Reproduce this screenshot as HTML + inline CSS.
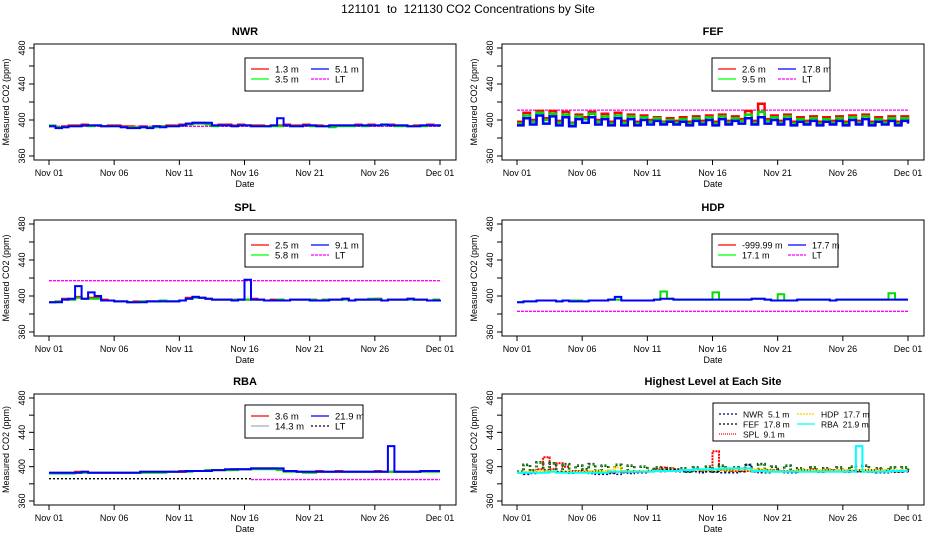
<!DOCTYPE html>
<html><head><meta charset="utf-8">
<style>
html,body{margin:0;padding:0;background:#fff;}
svg{display:block;font-family:"Liberation Sans",sans-serif;}
text{white-space:pre;}
</style></head>
<body>
<svg id="c" width="936" height="540" viewBox="0 0 936 540">
<text x="468" y="13" text-anchor="middle" font-size="12">121101  to  121130 CO2 Concentrations by Site</text>
</svg>
<script>
// ---- data (values every 12 hours, Nov 01 .. Dec 01, 61 points) ----
const xTickLabels = ["Nov 01","Nov 06","Nov 11","Nov 16","Nov 21","Nov 26","Dec 01"];
const xTickDays = [0,5,10,15,20,25,30];
const yTicks = [360,380,400,420,440,460,480];
const yTickLabels = ["360","","400","","440","","480"];

const nwr13 = [393,392,393,394,394,395,394,394,393,394,394,393,393,392,393,392,393,393,394,394,395,396,397,397,396,394,395,395,394,395,394,394,394,393,394,394,395,394,394,395,394,394,393,394,394,394,394,395,394,395,394,395,395,394,394,393,394,394,395,394,394];
const nwr35 = [394,392,392,393,393,394,393,394,393,393,393,392,392,392,392,392,392,393,393,393,394,395,396,396,395,393,394,394,393,394,394,393,393,393,393,393,394,393,393,394,393,393,393,392,393,393,393,394,393,394,394,394,394,393,393,393,393,393,394,394,393];
const nwr51 = [393,391,392,393,393,394,394,394,393,393,393,392,391,391,392,391,393,392,393,393,394,396,397,397,397,394,394,394,393,394,394,393,393,393,394,402,394,393,393,394,394,393,393,394,394,394,394,394,394,394,394,395,394,394,394,393,393,394,394,394,393];
const nwrLT = 393;

const fef26 = [398,408,400,410,402,410,399,409,397,406,403,409,400,407,398,408,399,406,398,405,400,403,398,402,399,403,398,404,399,405,398,406,399,404,401,410,399,418,401,405,399,406,398,403,399,404,398,403,399,404,398,405,399,406,398,403,399,404,398,404,400];
const fef95 = [396,405,398,408,400,407,397,406,396,404,401,407,398,404,396,405,397,404,396,403,398,402,397,400,397,401,396,402,397,403,396,404,397,402,399,406,397,409,399,403,397,404,396,401,397,402,396,401,397,402,396,403,397,404,396,401,397,402,396,402,398];
const fef178 = [394,402,395,405,396,404,394,403,393,401,397,403,395,401,394,402,394,401,394,400,395,399,395,398,395,398,394,399,395,400,394,401,395,399,396,402,395,403,396,400,395,401,394,398,395,399,394,398,395,399,394,400,395,401,394,398,395,399,394,399,396];
const fefLT = 411;

const spl25 = [393,394,397,396,399,397,398,398,396,395,394,394,393,394,394,394,394,395,394,394,395,398,399,398,397,396,396,396,396,396,396,397,396,395,396,396,395,396,396,396,396,395,396,396,396,397,395,396,396,396,397,395,396,396,396,397,396,396,395,396,396];
const spl58 = [393,394,396,396,398,397,397,397,395,395,394,394,393,393,394,394,394,395,394,394,395,397,398,398,397,396,396,396,396,396,396,396,396,395,395,396,395,396,396,396,396,395,396,396,396,396,395,396,396,397,397,395,396,396,396,396,396,396,395,396,396];
const spl91 = [393,393,396,397,411,397,404,400,395,395,394,394,393,393,393,394,394,394,394,394,395,397,399,398,397,396,396,396,395,396,418,396,396,395,395,395,395,396,396,396,395,395,395,396,396,397,395,396,396,396,396,395,396,396,396,397,396,396,395,395,396];
const splLT = 417;

const hdp171 = [393,394,394,395,395,395,394,395,395,395,394,395,395,395,396,396,395,395,395,395,395,396,405,397,396,396,396,396,396,396,404,396,396,396,396,396,397,397,396,395,402,395,395,396,396,396,396,396,395,396,396,396,396,396,396,396,396,403,396,396,396];
const hdp177 = [393,394,394,395,395,395,394,395,394,394,394,395,395,395,396,399,395,395,395,395,395,396,397,397,396,396,396,396,396,396,396,396,396,396,396,396,397,397,396,395,395,395,395,396,396,396,396,396,395,396,396,396,396,396,396,396,396,396,396,396,396];
const hdpLT = 383;

const rba36 = [393,393,393,393,394,394,393,393,393,393,393,393,393,393,394,394,394,394,394,394,395,395,395,395,396,396,396,396,397,397,397,398,398,398,398,397,395,395,394,394,394,395,394,394,395,394,394,394,394,394,395,394,394,394,394,394,394,395,395,395,395];
const rba143 = [392,392,392,392,393,393,393,393,393,393,393,393,393,393,393,393,393,393,394,394,394,394,395,395,396,396,396,396,396,397,397,397,397,397,397,396,394,394,394,393,393,394,394,394,394,394,394,394,394,394,394,394,394,394,394,394,394,394,394,394,394];
const rba219 = [393,393,393,393,393,394,393,393,393,393,393,393,393,393,394,394,394,394,394,394,394,395,395,395,395,396,396,397,397,397,397,398,398,398,398,398,395,395,394,394,394,394,394,394,394,394,394,394,394,394,394,394,424,394,394,394,394,395,395,395,395];
const rbaLT1 = 386;
const rbaLT2 = 385;

// ---- drawing ----
const svg = document.getElementById('c');
const NS = 'http://www.w3.org/2000/svg';
function mk(tag, at, parent){const e=document.createElementNS(NS,tag);for(const k in at)e.setAttribute(k,at[k]);(parent||svg).appendChild(e);return e;}

const panels = [
 {id:'nwr', title:'NWR', l:34, r:456, t:44, b:160},
 {id:'fef', title:'FEF', l:502, r:924, t:44, b:160},
 {id:'spl', title:'SPL', l:34, r:456, t:220, b:336},
 {id:'hdp', title:'HDP', l:502, r:924, t:220, b:336},
 {id:'rba', title:'RBA', l:34, r:456, t:394, b:505},
 {id:'high', title:'Highest Level at Each Site', l:502, r:924, t:394, b:505}
];

function axes(p){
  p.x = d => p.l+15 + d/30*(p.r-p.l-31);
  p.y = v => (p.b-4) - (v-360)/120*(p.b-p.t-8);
  const g = mk('g',{});
  
  
  const tt = mk('text',{x:(p.l+p.r)/2,y:p.t-9,'text-anchor':'middle','font-size':11,'font-weight':'bold'},g);
  tt.textContent = p.title;
  
  
  const box = mk('rect',{x:p.l,y:p.t,width:p.r-p.l,height:p.b-p.t,fill:'none',stroke:'#000','stroke-width':1},g);
  
  
  xTickDays.forEach((d,i)=>{
    const X=p.x(d);
    mk('line',{x1:X,x2:X,y1:p.b,y2:p.b+5,stroke:'#000'},g);
    const t=mk('text',{x:X,y:p.b+16,'text-anchor':'middle','font-size':9},g);
    t.textContent=xTickLabels[i];
    
    
  });
  const xl=mk('text',{x:(p.l+p.r)/2,y:p.b+27,'text-anchor':'middle','font-size':9},g);
  xl.textContent='Date';
  
  
  yTicks.forEach((v,i)=>{
    const Y=p.y(v);
    mk('line',{x1:p.l-5,x2:p.l,y1:Y,y2:Y,stroke:'#000'},g);
    if(yTickLabels[i]){
      const t=mk('text',{x:p.l-9,y:Y,'text-anchor':'middle','font-size':9,transform:`rotate(-90 ${p.l-9} ${Y})`},g);
      t.textContent=yTickLabels[i];
      
      
    }
  });
  const yc=(p.t+p.b)/2;
  const yl=mk('text',{x:p.l-25,y:yc,'text-anchor':'middle','font-size':9,transform:`rotate(-90 ${p.l-25} ${yc})`},g);
  yl.textContent='Measured CO2 (ppm)';
  
  
}
function series(p, vals, color, w, name, dash){
  let d='';
  vals.forEach((v,i)=>{
    const X1=p.x(i/2), X2=p.x(Math.min(i/2+0.5,30)), Y=p.y(v);
    d += (i?'L':'M')+X1.toFixed(1)+','+Y.toFixed(1)+'L'+X2.toFixed(1)+','+Y.toFixed(1);
  });
  const e=mk('path',{d:d,fill:'none',stroke:color,'stroke-width':w,'stroke-dasharray':dash||'none'});
  
  
}
function hline(p, v, color, name, dash, x0, x1){
  const e=mk('line',{x1:p.x(x0===undefined?0:x0),x2:p.x(x1===undefined?30:x1),y1:p.y(v),y2:p.y(v),stroke:color,'stroke-width':1.3,'stroke-dasharray':dash||'none'});
  
  
}
function legend(x,y,w,h,items,colW,name,fs){
  const g=mk('g',{});
  
  
  mk('rect',{x:x,y:y,width:w,height:h,fill:'#fff',stroke:'#000'},g);
  items.forEach((it,i)=>{
    const col=Math.floor(i/it.rows), row=i%it.rows;
    const lx=x+6+col*colW, ly=y+11+row*10;
    mk('line',{x1:lx,x2:lx+18,y1:ly,y2:ly,stroke:it.c,'stroke-width':it.w||1.2,'stroke-dasharray':it.d||'none'},g);
    const t=mk('text',{x:lx+24,y:ly+3.5,'font-size':fs||9.5},g);
    t.textContent=it.t;
    
    
  });
}
panels.forEach(axes);
const [P1,P2,P3,P4,P5,P6]=panels;

// NWR
hline(P1,nwrLT,'#ff00ff','nwr-lt-line','3,1');
series(P1,nwr13,'#ff0000',2,'nwr-1.3m-line');
series(P1,nwr35,'#00dd00',2,'nwr-3.5m-line');
series(P1,nwr51,'#0000ff',2,'nwr-5.1m-line');
legend(245,58,118,33,[{t:'1.3 m',c:'#ff0000',rows:2},{t:'3.5 m',c:'#00ff00',rows:2},{t:'5.1 m',c:'#0000ff',rows:2},{t:'LT',c:'#ff00ff',d:'3,1',rows:2}],60,'nwr-legend');

// FEF
hline(P2,fefLT,'#ff00ff','fef-lt-line','3,1');
series(P2,fef26,'#ff0000',2.5,'fef-2.6m-line');
series(P2,fef95,'#00dd00',2.5,'fef-9.5m-line');
series(P2,fef178,'#0000ff',2.5,'fef-17.8m-line');
legend(712,58,118,33,[{t:'2.6 m',c:'#ff0000',rows:2},{t:'9.5 m',c:'#00ff00',rows:2},{t:'17.8 m',c:'#0000ff',rows:2},{t:'LT',c:'#ff00ff',d:'3,1',rows:2}],60,'fef-legend');

// SPL
hline(P3,splLT,'#ff00ff','spl-lt-line','3,1');
series(P3,spl25,'#ff0000',2,'spl-2.5m-line');
series(P3,spl58,'#00dd00',2,'spl-5.8m-line');
series(P3,spl91,'#0000ff',2,'spl-9.1m-line');
legend(245,234,118,33,[{t:'2.5 m',c:'#ff0000',rows:2},{t:'5.8 m',c:'#00ff00',rows:2},{t:'9.1 m',c:'#0000ff',rows:2},{t:'LT',c:'#ff00ff',d:'3,1',rows:2}],60,'spl-legend');

// HDP
hline(P4,hdpLT,'#ff00ff','hdp-lt-line','3,1');
series(P4,hdp171,'#00dd00',2,'hdp-17.1m-line');
series(P4,hdp177,'#0000ff',2,'hdp-17.7m-line');
legend(712,234,126,33,[{t:'-999.99 m',c:'#ff0000',rows:2},{t:'17.1 m',c:'#00ff00',rows:2},{t:'17.7 m',c:'#0000ff',rows:2},{t:'LT',c:'#ff00ff',d:'3,1',rows:2}],70,'hdp-legend',9);

// RBA
hline(P5,rbaLT1,'#000','rba-lt-line','2,2',0,15.5);
hline(P5,rbaLT2,'#ff00ff','rba-lt-line-2','3,1',15.5,30);
series(P5,rba36,'#ff0000',2,'rba-3.6m-line');
series(P5,rba143,'#00dd00',2,'rba-14.3m-line');
series(P5,rba219,'#0000ff',2,'rba-21.9m-line');
legend(245,405,118,33,[{t:'3.6 m',c:'#ff0000',rows:2},{t:'14.3 m',c:'#aaaaaa',rows:2},{t:'21.9 m',c:'#0000ff',rows:2},{t:'LT',c:'#000',d:'2,2',rows:2}],60,'rba-legend');

// Highest
series(P6,spl91,'#ff0000',2,'high-spl-line','2,1');
series(P6,fef178,'#000',2.5,'high-fef-line','2,2');
series(P6,fef178,'#00aa00',1.5,'high-fef-line-2','2,2');
series(P6,hdp177,'#ffdd00',2,'high-hdp-line','2,1');
series(P6,nwr51,'#000080',1.5,'high-nwr-line','2,2');
series(P6,rba219,'#00ffff',2,'high-rba-line');
legend(713,403,156,38,[{t:'NWR  5.1 m',c:'#000080',d:'2,2',rows:3},{t:'FEF  17.8 m',c:'#000',d:'2,2',rows:3},{t:'SPL  9.1 m',c:'#ff0000',d:'1,1',rows:3},{t:'HDP  17.7 m',c:'#ffcc00',d:'2,1',rows:3},{t:'RBA  21.9 m',c:'#00ffff',rows:3}],78,'high-legend',8.5);
</script>
</body></html>
